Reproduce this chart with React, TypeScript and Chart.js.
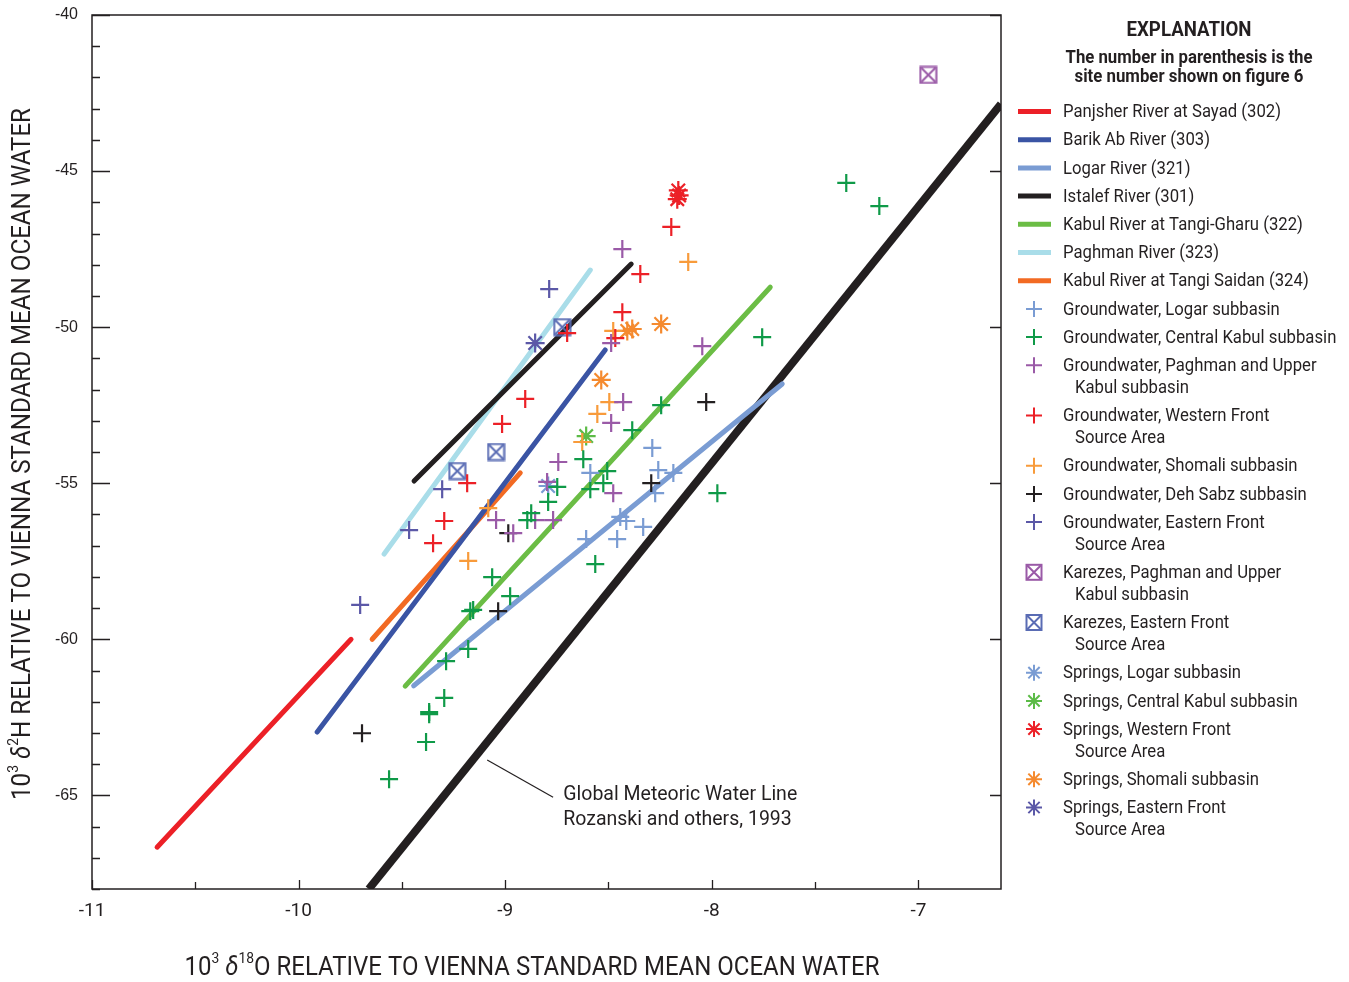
import React, { useEffect, useRef } from 'react';
import { Chart, registerables } from 'chart.js';

Chart.register(...registerables);

type P = [number, number];

// ---------- axes ----------
const X_MIN = -11;
const X_MAX = -6.6;
const Y_MIN = -68;
const Y_MAX = -40;
const xTickValues = [-11, -10.5, -10, -9.5, -9, -8.5, -8, -7.5, -7];
const yTickValues = [
  -68, -67, -66, -65, -64, -63, -62, -61, -60, -59, -58, -57, -56, -55, -54,
  -53, -52, -51, -50, -49, -48, -47, -46, -45, -44, -43, -42, -41, -40,
];

// ---------- river regression lines ----------
const panjsherLine: P[] = [[-10.685, -66.66], [-9.746, -60.0]];
const barikAbLine: P[] = [[-9.91, -62.97], [-8.516, -50.73]];
const logarLine: P[] = [[-9.443, -61.49], [-7.659, -51.82]];
const istalefLine: P[] = [[-9.441, -54.93], [-8.39, -47.98]];
const tangiGharuLine: P[] = [[-9.484, -61.5], [-7.717, -48.72]];
const paghmanLine: P[] = [[-9.586, -57.27], [-8.588, -48.17]];
const tangiSaidanLine: P[] = [[-9.644, -60.0], [-8.927, -54.67]];
const gmwlLine: P[] = [[-9.66, -68.0], [-6.6, -42.85]];

// ---------- groundwater ----------
const gwLogar: P[] = [
  [-8.288, -53.87], [-8.259, -54.58], [-8.186, -54.67], [-8.274, -55.32], [-8.588, -54.67],
  [-8.443, -56.08], [-8.414, -56.21], [-8.332, -56.4], [-8.608, -56.79], [-8.458, -56.79],
];
const gwCentralKabul: P[] = [
  [-7.349, -45.38], [-7.189, -46.12], [-7.756, -50.32], [-7.973, -55.32], [-8.245, -52.5],
  [-8.385, -53.3], [-8.622, -54.23], [-8.506, -54.61], [-8.525, -55.0], [-8.588, -55.19],
  [-8.748, -55.12], [-8.792, -55.6], [-8.874, -55.96], [-8.893, -56.18], [-8.564, -57.59],
  [-8.976, -58.62], [-9.063, -58.01], [-9.155, -59.06], [-9.169, -59.1], [-9.179, -60.31],
  [-9.286, -60.7], [-9.295, -61.88], [-9.368, -62.4], [-9.368, -62.33], [-9.383, -63.29],
  [-9.562, -64.48],
];
const gwPaghman: P[] = [
  [-8.433, -47.5], [-8.487, -50.51], [-8.046, -50.61], [-8.429, -52.4], [-8.487, -53.07],
  [-8.743, -54.32], [-8.477, -55.32], [-8.768, -56.18], [-8.855, -56.18], [-9.044, -56.18],
  [-8.961, -56.6], [-8.797, -54.96],
];
const gwWestern: P[] = [
  [-8.196, -46.79], [-8.346, -48.3], [-8.433, -49.52], [-8.7, -50.19], [-8.467, -50.35],
  [-8.903, -52.3], [-9.015, -53.1], [-9.184, -55.0], [-9.295, -56.21], [-9.349, -56.92],
];
const gwShomali: P[] = [
  [-8.114, -47.91], [-8.477, -50.12], [-8.496, -52.4], [-8.554, -52.78], [-9.082, -55.8],
  [-9.179, -57.49], [-8.627, -53.68],
];
const gwDehSabz: P[] = [[-8.027, -52.4], [-8.293, -55.0], [-8.985, -56.6], [-9.034, -59.1], [-9.693, -63.01]];
const gwEastern: P[] = [[-8.787, -48.78], [-9.305, -55.19], [-9.465, -56.5], [-9.702, -58.9]];

// ---------- karezes ----------
const karezPaghman: P[] = [[-6.952, -41.92]];
const karezEastern: P[] = [[-8.724, -50.0], [-9.044, -54.0], [-9.232, -54.61]];

// ---------- springs ----------
const springLogar: P[] = [[-8.792, -55.09]];
const springCentralKabul: P[] = [[-8.608, -53.49]];
const springWestern: P[] = [[-8.162, -45.62], [-8.167, -45.9], [-8.158, -45.78]];
const springShomali: P[] = [[-8.385, -50.06], [-8.409, -50.12], [-8.245, -49.9], [-8.535, -51.69]];
const springEastern: P[] = [[-8.855, -50.51]];

// ---------- annotation ----------
const gmwlLeader: P[] = [[-9.087, -63.87], [-8.768, -65.06]];
const gmwlTextAt: P = [-8.719, -64.99];
const gmwlText = ['Global Meteoric Water Line', 'Rozanski and others, 1993'];

const TEXT = '#231f20';
const FONT = 'Roboto';

type LineSeries = { label: string; data: P[]; color: string };
type PointSeries = { label: string; data: P[]; color: string; kind: 'plus' | 'box' | 'star' };

const lineSeries: LineSeries[] = [
  { label: 'Panjsher River at Sayad (302)', data: panjsherLine, color: '#ec2027' },
  { label: 'Barik Ab River (303)', data: barikAbLine, color: '#3a54a4' },
  { label: 'Logar River (321)', data: logarLine, color: '#7a9cd3' },
  { label: 'Istalef River (301)', data: istalefLine, color: '#231f20' },
  { label: 'Kabul River at Tangi-Gharu (322)', data: tangiGharuLine, color: '#6bbd45' },
  { label: 'Paghman River (323)', data: paghmanLine, color: '#a9dde9' },
  { label: 'Kabul River at Tangi Saidan (324)', data: tangiSaidanLine, color: '#f26a23' },
];

const pointSeries: PointSeries[] = [
  { label: 'Groundwater, Logar subbasin', data: gwLogar, color: '#7a9cd3', kind: 'plus' },
  { label: 'Groundwater, Central Kabul subbasin', data: gwCentralKabul, color: '#0f9a48', kind: 'plus' },
  { label: 'Groundwater, Paghman and Upper\nKabul subbasin', data: gwPaghman, color: '#9a5aa7', kind: 'plus' },
  { label: 'Groundwater, Western Front\nSource Area', data: gwWestern, color: '#ec2027', kind: 'plus' },
  { label: 'Groundwater, Shomali subbasin', data: gwShomali, color: '#f89b3b', kind: 'plus' },
  { label: 'Groundwater, Deh Sabz subbasin', data: gwDehSabz, color: '#231f20', kind: 'plus' },
  { label: 'Groundwater, Eastern Front\nSource Area', data: gwEastern, color: '#5b58a7', kind: 'plus' },
  { label: 'Karezes, Paghman and Upper\nKabul subbasin', data: karezPaghman, color: '#9a5aa7', kind: 'box' },
  { label: 'Karezes, Eastern Front\nSource Area', data: karezEastern, color: '#5a6cb4', kind: 'box' },
  { label: 'Springs, Logar subbasin', data: springLogar, color: '#7a9cd3', kind: 'star' },
  { label: 'Springs, Central Kabul subbasin', data: springCentralKabul, color: '#5cbb47', kind: 'star' },
  { label: 'Springs, Western Front\nSource Area', data: springWestern, color: '#ec2027', kind: 'star' },
  { label: 'Springs, Shomali subbasin', data: springShomali, color: '#f58a2e', kind: 'star' },
  { label: 'Springs, Eastern Front\nSource Area', data: springEastern, color: '#5b58a7', kind: 'star' },
];

// ---------- drawing helpers ----------
function makeBoxX(color: string): HTMLCanvasElement {
  const c = document.createElement('canvas');
  c.width = 19;
  c.height = 19;
  const g = c.getContext('2d')!;
  g.strokeStyle = color;
  g.lineWidth = 2;
  g.strokeRect(1.5, 1.5, 16, 16);
  g.beginPath();
  g.moveTo(2.5, 2.5);
  g.lineTo(16.5, 16.5);
  g.moveTo(16.5, 2.5);
  g.lineTo(2.5, 16.5);
  g.stroke();
  return c;
}

function drawMarker(ctx: CanvasRenderingContext2D, kind: string, x: number, y: number, color: string) {
  ctx.save();
  ctx.strokeStyle = color;
  ctx.lineWidth = 2;
  const r = 8;
  ctx.beginPath();
  if (kind === 'plus' || kind === 'star') {
    ctx.moveTo(x - r, y);
    ctx.lineTo(x + r, y);
    ctx.moveTo(x, y - r);
    ctx.lineTo(x, y + r);
    if (kind === 'star') {
      const d = r * Math.SQRT1_2;
      ctx.moveTo(x - d, y - d);
      ctx.lineTo(x + d, y + d);
      ctx.moveTo(x + d, y - d);
      ctx.lineTo(x - d, y + d);
    }
    ctx.stroke();
  } else {
    ctx.strokeRect(x - 7.5, y - 7.5, 15, 15);
    ctx.moveTo(x - 7, y - 7);
    ctx.lineTo(x + 7, y + 7);
    ctx.moveTo(x + 7, y - 7);
    ctx.lineTo(x - 7, y + 7);
    ctx.stroke();
  }
  ctx.restore();
}

function drawScaled(ctx: CanvasRenderingContext2D, text: string, x: number, y: number, sx: number, align: 'left' | 'center' = 'left') {
  ctx.save();
  ctx.translate(x, y);
  ctx.scale(sx, 1);
  ctx.textAlign = align;
  ctx.fillText(text, 0, 0);
  ctx.restore();
}

function fitText(ctx: CanvasRenderingContext2D, text: string, x: number, y: number, font: string, width: number) {
  ctx.font = font;
  const sx = width / ctx.measureText(text).width;
  drawScaled(ctx, text, x, y, sx, 'center');
}

type Seg = { t: string; sup?: boolean; it?: boolean };
function drawRich(ctx: CanvasRenderingContext2D, segs: Seg[], size: number, width: number) {
  const fontOf = (s: Seg) => `${s.it ? 'italic ' : ''}${s.sup ? Math.round(size * 0.58) : size}px ${FONT}`;
  let total = 0;
  const ws = segs.map((s) => {
    ctx.font = fontOf(s);
    const w = ctx.measureText(s.t).width;
    total += w;
    return w;
  });
  const sx = width / total;
  ctx.scale(sx, 1);
  let cx = -total / 2;
  ctx.textAlign = 'left';
  segs.forEach((s, i) => {
    ctx.font = fontOf(s);
    ctx.fillText(s.t, cx, s.sup ? -size * 0.33 : 0);
    cx += ws[i];
  });
}

const xTitle: Seg[] = [
  { t: '10' }, { t: '3', sup: true }, { t: ' ' }, { t: 'δ', it: true }, { t: '18', sup: true },
  { t: 'O RELATIVE TO VIENNA STANDARD MEAN OCEAN WATER' },
];
const yTitle: Seg[] = [
  { t: '10' }, { t: '3', sup: true }, { t: ' ' }, { t: 'δ', it: true }, { t: '2', sup: true },
  { t: 'H RELATIVE TO VIENNA STANDARD MEAN OCEAN WATER' },
];

const framePlugin = {
  id: 'frameTicks',
  afterDatasetsDraw(chart: any) {
    const { ctx, chartArea: a, scales } = chart;
    ctx.save();
    ctx.strokeStyle = TEXT;
    ctx.lineWidth = 1.5;
    ctx.strokeRect(a.left, a.top, a.right - a.left, a.bottom - a.top);
    ctx.lineWidth = 1.3;
    ctx.beginPath();
    yTickValues.forEach((v) => {
      const py = Math.round(scales.y.getPixelForValue(v)) + 0.5;
      const major = v % 5 === 0;
      ctx.moveTo(a.left, py);
      ctx.lineTo(a.left + (major ? 18 : 8), py);
      if (major) {
        ctx.moveTo(a.right, py);
        ctx.lineTo(a.right - 11, py);
      }
    });
    xTickValues.forEach((v) => {
      const px = Math.round(scales.x.getPixelForValue(v)) + 0.5;
      ctx.moveTo(px, a.bottom);
      ctx.lineTo(px, a.bottom - (Number.isInteger(v) ? 9 : 7));
    });
    ctx.stroke();

    // GMWL annotation leader
    ctx.lineWidth = 1.2;
    ctx.beginPath();
    ctx.moveTo(scales.x.getPixelForValue(gmwlLeader[0][0]), scales.y.getPixelForValue(gmwlLeader[0][1]));
    ctx.lineTo(scales.x.getPixelForValue(gmwlLeader[1][0]), scales.y.getPixelForValue(gmwlLeader[1][1]));
    ctx.stroke();
    ctx.restore();
  },
  afterDraw(chart: any) {
    const { ctx, scales } = chart;
    ctx.save();
    ctx.fillStyle = TEXT;
    ctx.textBaseline = 'middle';

    // axis titles
    ctx.save();
    ctx.translate(532, 968);
    drawRich(ctx, xTitle, 26, 695);
    ctx.restore();
    ctx.save();
    ctx.translate(23, 454);
    ctx.rotate(-Math.PI / 2);
    drawRich(ctx, yTitle, 26, 692);
    ctx.restore();

    // legend
    fitText(ctx, 'EXPLANATION', 1189, 31, `bold 21px ${FONT}`, 125);
    fitText(ctx, 'The number in parenthesis is the', 1189, 58, `bold 18px ${FONT}`, 247);
    fitText(ctx, 'site number shown on figure 6', 1189, 77, `bold 18px ${FONT}`, 229);
    ctx.font = `19px ${FONT}`;
    const sx = 218 / ctx.measureText('Panjsher River at Sayad (302)').width;
    let y = 111.5;
    lineSeries.forEach((s) => {
      ctx.save();
      ctx.strokeStyle = s.color;
      ctx.lineWidth = 5;
      ctx.beginPath();
      ctx.moveTo(1018, y);
      ctx.lineTo(1051, y);
      ctx.stroke();
      ctx.restore();
      drawScaled(ctx, s.label, 1063, y + 1, sx);
      y += 28.2;
    });
    pointSeries.forEach((s) => {
      drawMarker(ctx, s.kind, 1034, y, s.color);
      const lines = s.label.split('\n');
      lines.forEach((ln, i) => drawScaled(ctx, ln, i ? 1075 : 1063, y + 1 + i * 22, sx));
      y += 28.2 + (lines.length - 1) * 22;
    });

    // GMWL note text
    const tx = scales.x.getPixelForValue(gmwlTextAt[0]);
    const ty = scales.y.getPixelForValue(gmwlTextAt[1]);
    ctx.font = `20px ${FONT}`;
    const sxNote = 234 / ctx.measureText(gmwlText[0]).width;
    drawScaled(ctx, gmwlText[0], tx, ty, sxNote);
    drawScaled(ctx, gmwlText[1], tx, ty + 25, sxNote);
    ctx.restore();
  },
};

export default function App() {
  const ref = useRef<HTMLCanvasElement>(null);
  useEffect(() => {
    if (!ref.current) return;
    const toXY = (d: P[]) => d.map(([x, y]) => ({ x, y }));
    const pointDatasets = pointSeries.map((s) => ({
      type: 'scatter' as const,
      label: s.label,
      data: toXY(s.data),
      order: 0,
      pointStyle: s.kind === 'plus' ? 'cross' : s.kind === 'star' ? 'star' : makeBoxX(s.color),
      pointRadius: s.kind === 'star' ? 9.5 : 9,
      pointBorderWidth: 2.2,
      pointBorderColor: s.color,
      pointBackgroundColor: s.color,
      showLine: false,
    }));
    const lineDatasets = lineSeries.map((s) => ({
      type: 'scatter' as const,
      label: s.label,
      data: toXY(s.data),
      order: 1,
      showLine: true,
      borderColor: s.color,
      borderWidth: 5,
      borderCapStyle: 'round' as const,
      pointRadius: 0,
    }));
    const gmwl = {
      type: 'scatter' as const,
      label: 'Global Meteoric Water Line',
      data: toXY(gmwlLine),
      order: 2,
      showLine: true,
      borderColor: '#231f20',
      borderWidth: 8,
      borderCapStyle: 'butt' as const,
      pointRadius: 0,
      clip: 0,
    };
    const chart = new Chart(ref.current, {
      type: 'scatter',
      data: { datasets: [...pointDatasets, ...lineDatasets, gmwl] as any },
      options: {
        responsive: false,
        animation: false,
        devicePixelRatio: 1,
        layout: { padding: { left: 0, right: 348, top: 15, bottom: 0 } },
        plugins: { legend: { display: false }, tooltip: { enabled: false } },
        scales: {
          x: {
            type: 'linear',
            min: X_MIN,
            max: X_MAX,
            afterBuildTicks: (s: any) => {
              s.ticks = xTickValues.map((v) => ({ value: v }));
            },
            afterFit: (s: any) => {
              s.height = 93;
              s.paddingLeft = 0;
              s.paddingRight = 0;
            },
            ticks: {
              autoSkip: false,
              maxRotation: 0,
              padding: 11,
              color: TEXT,
              font: { family: FONT, size: 19 },
              callback: (v: any) => (Number.isInteger(v) ? String(v) : ''),
            },
            grid: { display: false, drawTicks: false },
            border: { display: false },
          },
          y: {
            type: 'linear',
            min: Y_MIN,
            max: Y_MAX,
            afterBuildTicks: (s: any) => {
              s.ticks = yTickValues.map((v) => ({ value: v }));
            },
            afterFit: (s: any) => {
              s.width = 92;
              s.paddingTop = 0;
              s.paddingBottom = 0;
            },
            ticks: {
              autoSkip: false,
              padding: 14,
              color: TEXT,
              font: { family: 'Liberation Sans', size: 16 },
              callback: (v: any) => (v % 5 === 0 ? String(v) : ''),
            },
            grid: { display: false, drawTicks: false },
            border: { display: false },
          },
        },
      },
      plugins: [framePlugin],
    } as any);
    return () => chart.destroy();
  }, []);
  return (
    <div style={{ position: 'absolute', left: 0, top: 0, width: 1349, height: 982, background: '#fff' }}>
      <canvas ref={ref} width={1349} height={982} style={{ display: 'block', width: 1349, height: 982 }} />
    </div>
  );
}
